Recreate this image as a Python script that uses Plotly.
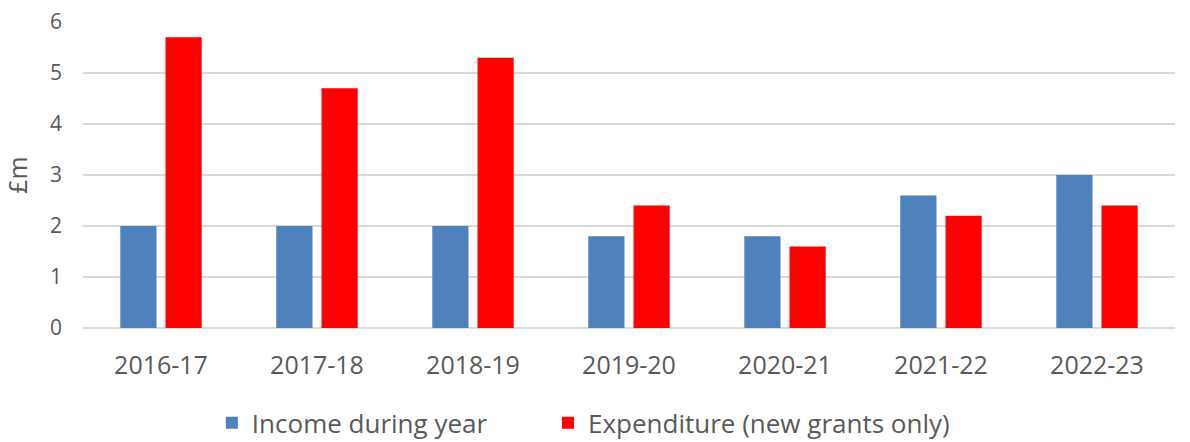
import plotly.graph_objects as go

categories = ["2016-17", "2017-18", "2018-19", "2019-20", "2020-21", "2021-22", "2022-23"]
income = [2.0, 2.0, 2.0, 1.8, 1.8, 2.6, 3.0]
expenditure = [5.7, 4.7, 5.3, 2.4, 1.6, 2.2, 2.4]
series_names = ["Income during year", "Expenditure (new grants only)"]
y_ticks = [0, 1, 2, 3, 4, 5, 6]

FONT = "Open Sans, Liberation Sans, sans-serif"
GREY = "#595959"

fig = go.Figure()
fig.add_trace(go.Bar(x=categories, y=income, name=series_names[0], legend="legend",
                     marker=dict(color="#4f81bd", line=dict(width=0))))
fig.add_trace(go.Bar(x=categories, y=expenditure, name=series_names[1], legend="legend2",
                     marker=dict(color="#ff0000", line=dict(width=0))))

legend_common = dict(orientation="h", xanchor="left", y=-0.31, yanchor="middle",
                     font=dict(size=26, color=GREY), itemwidth=30,
                     bgcolor="rgba(0,0,0,0)")

fig.update_layout(
    width=1190, height=442,
    margin=dict(l=83, r=15, t=22, b=114, autoexpand=False),
    paper_bgcolor="white", plot_bgcolor="white",
    barmode="group", bargap=0.42, bargroupgap=0.2,
    font=dict(family=FONT, color=GREY, size=21),
    showlegend=True,
    legend=dict(x=0.118, **legend_common),
    legend2=dict(x=0.4258, **legend_common),
    xaxis=dict(showgrid=False, showline=False, ticks="", ticklabelstandoff=20,
               automargin=False, tickfont=dict(size=25, color=GREY)),
    yaxis=dict(range=[0, 6], tickvals=y_ticks, showgrid=True, gridcolor="#d9d9d9",
               gridwidth=1.5, zeroline=True, zerolinecolor="#d9d9d9", zerolinewidth=1.5,
               showline=False, ticks="", ticklabelstandoff=20, automargin=False,
               tickfont=dict(size=21, color=GREY),
               title=dict(text="£m", font=dict(size=25, color=GREY), standoff=18)),
)

fig.write_html("out.html", config={"displayModeBar": False},
               post_script="document.body.style.margin='0';document.body.style.overflow='hidden';")
